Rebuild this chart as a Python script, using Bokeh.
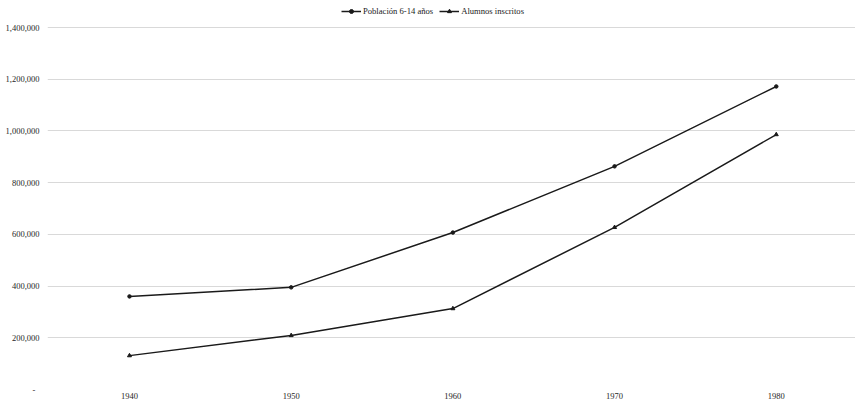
from bokeh.plotting import figure
from bokeh.models import Legend, LegendItem, FixedTicker, CustomJSTickFormatter, Range1d
from bokeh.embed import file_html
from bokeh.resources import INLINE

years = [1940, 1950, 1960, 1970, 1980]
poblacion = [360000, 395000, 607000, 863000, 1172000]
alumnos = [131000, 209000, 313000, 627000, 986000]
y_ticks = [0, 200000, 400000, 600000, 800000, 1000000, 1200000, 1400000]
series_names = ["Población 6-14 años", "Alumnos inscritos"]

FONT = "Liberation Serif"
LINE = "#1a1a1a"

# frame extends to the top of the page so the legend can sit inside it;
# 1,400,000 lands 27px below the top, 0 at 389px
p = figure(frame_width=808, frame_height=389, output_backend="svg", toolbar_location=None,
           x_range=Range1d(1934.93, 1984.9), y_range=Range1d(0, 1400000 * 389 / 362),
           min_border_left=47, min_border_right=0, min_border_top=0, min_border_bottom=0)
p.outline_line_color = None
p.background_fill_color = "white"

r1 = p.line(years, poblacion, line_color=LINE, line_width=1.5)
m1 = p.scatter(years, poblacion, marker="circle", size=3.5, fill_color=LINE, line_color=LINE)
r2 = p.line(years, alumnos, line_color=LINE, line_width=1.5)
m2 = p.scatter(years, alumnos, marker="triangle", size=4, fill_color=LINE, line_color=LINE)

legend = Legend(items=[LegendItem(label=series_names[0], renderers=[r1, m1]),
                       LegendItem(label=series_names[1], renderers=[r2, m2])],
                orientation="horizontal", location=(294, 373),
                label_text_font=FONT, label_text_font_size="8.6px",
                label_text_color="#1a1a1a",
                glyph_width=20, glyph_height=10, label_height=10,
                label_standoff=2, spacing=6, padding=3, margin=0,
                border_line_color=None, background_fill_alpha=0)
p.add_layout(legend, "center")

p.xaxis.ticker = FixedTicker(ticks=years)
p.yaxis.ticker = FixedTicker(ticks=y_ticks)
p.yaxis.formatter = CustomJSTickFormatter(code="""
    return tick == 0 ? "-  " : Math.round(tick).toLocaleString('en-US');
""")

for ax in (p.xaxis, p.yaxis):
    ax.axis_line_color = None
    ax.major_tick_line_color = None
    ax.minor_tick_line_color = None
    ax.major_tick_out = 0
    ax.major_tick_in = 0
    ax.minor_tick_out = 0
    ax.minor_tick_in = 0
    ax.major_label_text_font = FONT
    ax.major_label_text_font_size = "8.5px"
    ax.major_label_text_color = "#262626"
p.yaxis.major_label_standoff = 8
p.xaxis.major_label_standoff = 3

p.xgrid.grid_line_color = None
p.ygrid.grid_line_color = "#d9d9d9"
p.ygrid.grid_line_width = 1

open("out.html", "w").write(file_html(p, INLINE))
